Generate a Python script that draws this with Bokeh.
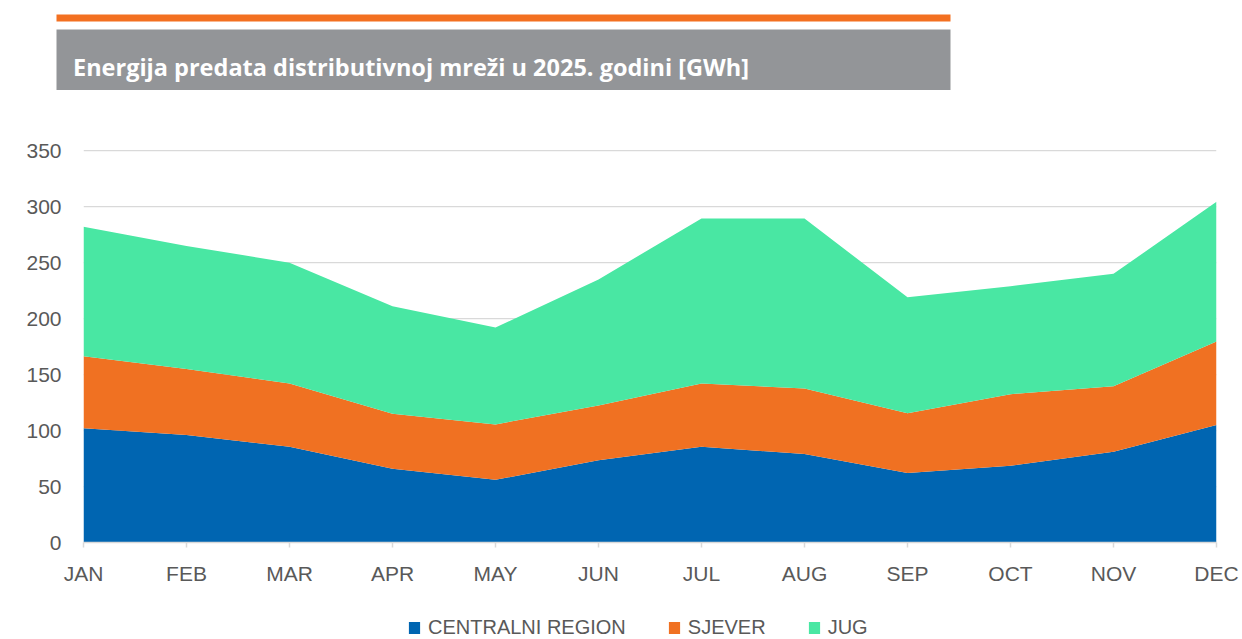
from bokeh.plotting import figure
from bokeh.models import (ColumnDataSource, Range1d, FixedTicker, Legend, LegendItem)
from bokeh.core.properties import value
from bokeh.embed import file_html
from bokeh.resources import INLINE

# ---- data ----
months = ["JAN", "FEB", "MAR", "APR", "MAY", "JUN", "JUL", "AUG", "SEP", "OCT", "NOV", "DEC"]
centralni = [102, 96, 85.5, 66, 56, 73.5, 85.5, 79, 62, 68.5, 81, 105]
sjever = [64.5, 59, 56.5, 49, 49.5, 49, 56.5, 58.5, 53.5, 64, 58.5, 74.5]
jug = [115.5, 110, 108, 96, 86.5, 112.5, 147.5, 152, 103.5, 96.5, 100.5, 125]
series_names = ["CENTRALNI REGION", "SJEVER", "JUG"]
y_ticks = [0, 50, 100, 150, 200, 250, 300, 350]
title_text = "Energija predata distributivnoj mreži u 2025. godini [GWh]"

colors = ["#0065B1", "#F07122", "#49E7A3"]
label_color = "#595959"
grid_color = "#D9D9D9"

W = 1242
HEADER_H = 100
MAIN_H = 487
LEGEND_H = 639 - HEADER_H - MAIN_H

# ---- header (title bar) ----
header = figure(width=W, height=HEADER_H, x_range=Range1d(0, W), y_range=Range1d(HEADER_H, 0),
                x_axis_type=None, y_axis_type=None, toolbar_location=None,
                output_backend="svg", min_border=0)
header.outline_line_color = None
header.xgrid.visible = False
header.ygrid.visible = False
header.quad(left=[56], right=[950], top=[14], bottom=[21], color="#F37021", line_color=None)
header.quad(left=[56], right=[950], top=[29], bottom=[89.5], color="#939598", line_color=None)
header.text(x=[72.5], y=[66.5], text=[title_text], text_color="white",
            text_font=value("Open Sans"), text_font_style="bold", text_font_size="23.5px",
            text_baseline="alphabetic", text_align="left")

# ---- main chart ----
x = list(range(len(months)))
source = ColumnDataSource(dict(x=x, c=centralni, s=sjever, j=jug))

p = figure(width=W, height=MAIN_H, x_range=Range1d(0, len(months) - 1),
           y_range=Range1d(0, 352),
           toolbar_location=None, output_backend="svg",
           min_border_left=83, min_border_right=26, min_border_top=48, min_border_bottom=45)
p.outline_line_color = None

rs = p.varea_stack(stackers=["c", "s", "j"], x="x", color=colors, source=source)

# x axis
p.xaxis.ticker = FixedTicker(ticks=x)
p.xaxis.major_label_overrides = {i: m for i, m in enumerate(months)}
p.xaxis.axis_line_color = grid_color
p.xaxis.axis_line_width = 1.5
p.xaxis.major_tick_line_color = grid_color
p.xaxis.major_tick_line_width = 1.5
p.xaxis.major_tick_out = 5
p.xaxis.major_tick_in = 0
p.xaxis.minor_tick_line_color = None
p.xaxis.major_label_standoff = 14
p.xaxis.major_label_text_font = "Liberation Sans"
p.xaxis.major_label_text_font_size = "21px"
p.xaxis.major_label_text_color = label_color

# y axis
p.yaxis.ticker = FixedTicker(ticks=y_ticks)
p.yaxis.axis_line_color = None
p.yaxis.major_tick_line_color = None
p.yaxis.minor_tick_line_color = None
p.yaxis.major_tick_out = 0
p.yaxis.major_label_standoff = 22
p.yaxis.major_label_text_font = "Liberation Sans"
p.yaxis.major_label_text_font_size = "21px"
p.yaxis.major_label_text_color = label_color

# grid
p.xgrid.visible = False
p.ygrid.ticker = FixedTicker(ticks=y_ticks)
p.ygrid.grid_line_color = grid_color
p.ygrid.grid_line_width = 1.25

# ---- legend strip (own canvas; series renderers kept out of its visible range) ----
lg = figure(width=W, height=LEGEND_H, x_range=Range1d(100, 200), y_range=Range1d(1000, 2000),
            x_axis_type=None, y_axis_type=None, toolbar_location=None,
            output_backend="svg", min_border=0)
lg.outline_line_color = None
lg.xgrid.visible = False
lg.ygrid.visible = False
lrs = lg.varea_stack(stackers=["c", "s", "j"], x="x", color=colors, source=source)
items = [LegendItem(label=n, renderers=[r]) for n, r in zip(series_names, lrs)]
legend = Legend(items=items, orientation="horizontal", location=(407, 0),
                glyph_width=14, glyph_height=15, label_standoff=7, spacing=41,
                padding=0, margin=0, border_line_color=None, background_fill_alpha=0,
                label_text_font="Liberation Sans", label_text_font_size="20px",
                label_text_color=label_color)
lg.add_layout(legend, "center")

open("out.html", "w").write(file_html([header, p, lg], INLINE))
